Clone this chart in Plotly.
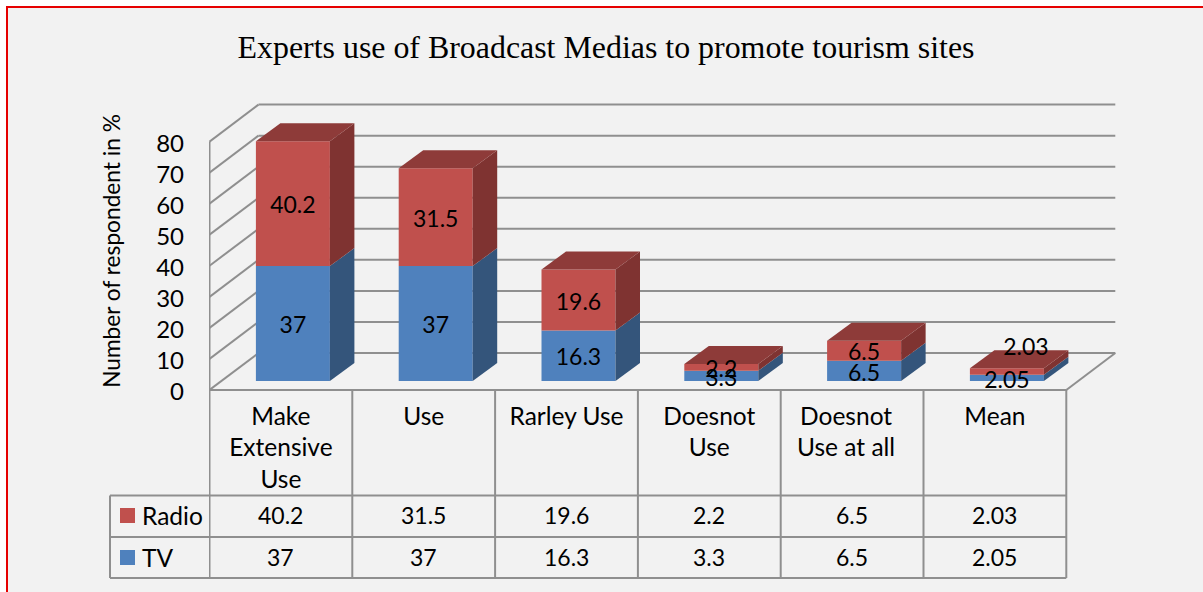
import plotly.graph_objects as go

# Chart data
categories = ["Make Extensive Use", "Use", "Rarley Use", "Doesnot Use", "Doesnot Use at all", "Mean"]
category_ticks = ["Make<br>Extensive<br>Use", "Use", "Rarley Use", "Doesnot<br>Use", "Doesnot<br>Use at all", "Mean"]
radio = [40.2, 31.5, 19.6, 2.2, 6.5, 2.03]
tv = [37, 37, 16.3, 3.3, 6.5, 2.05]
y_ticks = [0, 10, 20, 30, 40, 50, 60, 70, 80]

# Colours
TV_FRONT, TV_SIDE = "#4f81bd", "#34557b"
RADIO_FRONT, RADIO_SIDE, RADIO_TOP = "#c0504d", "#7f3331", "#8e3b39"
GRID = "#8f8f8f"
PANEL = "#f2f2f2"
SANS = "Lato"
TEXT_SIZE = 23
LABEL_SIZE = 24.5

# Page layout, in pixels
W, H = 1203, 592
PLOT_L, PLOT_R, PLOT_T, PLOT_B = 209, 1118, 103, 399
ZERO_Y = 390
CAT_W = 142.8          # pixels per category
UNIT_H = 3.105         # pixels per percentage point
LEFT_EDGE = 209.5


def px_x(v):
    return (v - PLOT_L) / (PLOT_R - PLOT_L)


def px_y(v):
    return (PLOT_B - v) / (PLOT_B - PLOT_T)


# Oblique projection of the depth axis, in axis units
WALL_DX, WALL_DY = 49 / CAT_W, 37 / UNIT_H
BAR_DX, BAR_DY = 24.5 / CAT_W, 18 / UNIT_H
BAR_SHIFT, BAR_FLOOR = 12 / CAT_W, 9 / UNIT_H
BAR_W = 74 / CAT_W
LABEL_DROP = 4 / UNIT_H

x_lo = -0.5 - (LEFT_EDGE - PLOT_L) / CAT_W
x_hi = x_lo + (PLOT_R - PLOT_L) / CAT_W
y_lo = (ZERO_Y - PLOT_B) / UNIT_H
y_hi = (ZERO_Y - PLOT_T) / UNIT_H
x_right = len(categories) - 0.5

positions = [i + BAR_SHIFT for i in range(len(categories))]
radio_base = [BAR_FLOOR + v for v in tv]
tops = [b + v for b, v in zip(radio_base, radio)]

# The fifth category label sits slightly left of its column centre
tick_positions = list(range(len(categories)))
tick_positions[4] -= 6 / CAT_W

fig = go.Figure()


def add_face(xs, ys, colour):
    fig.add_trace(go.Scatter(x=xs, y=ys, mode="lines", fill="toself", fillcolor=colour,
                             line=dict(width=0), hoverinfo="skip", showlegend=False))


# Front faces of the stacked columns
fig.add_trace(go.Bar(name="TV", x=positions, y=tv, base=[BAR_FLOOR] * len(tv),
                     width=BAR_W, marker=dict(color=TV_FRONT, line=dict(width=0))))
fig.add_trace(go.Bar(name="Radio", x=positions, y=radio, base=radio_base,
                     width=BAR_W, marker=dict(color=RADIO_FRONT, line=dict(width=0))))

# Side and top faces of each column
for p, t, rb, top in zip(positions, tv, radio_base, tops):
    xr = p + BAR_W / 2
    xl = p - BAR_W / 2
    add_face([xr, xr + BAR_DX, xr + BAR_DX, xr],
             [BAR_FLOOR, BAR_FLOOR + BAR_DY, rb + BAR_DY, rb], TV_SIDE)
    add_face([xr, xr + BAR_DX, xr + BAR_DX, xr],
             [rb, rb + BAR_DY, top + BAR_DY, top], RADIO_SIDE)
    add_face([xl, xr, xr + BAR_DX, xl + BAR_DX],
             [top, top, top + BAR_DY, top + BAR_DY], RADIO_TOP)

# Value labels, centred on their segments; the Mean radio label sits up and to the right
radio_label_x = list(positions)
radio_label_y = [b + v / 2 - LABEL_DROP for b, v in zip(radio_base, radio)]
radio_label_x[5] += 19 / CAT_W
radio_label_y[5] += 26 / UNIT_H
fig.add_trace(go.Scatter(x=positions, y=[BAR_FLOOR + v / 2 - LABEL_DROP for v in tv], mode="text",
                         text=[str(v) for v in tv], textposition="middle center",
                         textfont=dict(family=SANS, size=TEXT_SIZE, color="black"),
                         hoverinfo="skip", showlegend=False, cliponaxis=False))
fig.add_trace(go.Scatter(x=radio_label_x, y=radio_label_y, mode="text",
                         text=[str(v) for v in radio], textposition="middle center",
                         textfont=dict(family=SANS, size=TEXT_SIZE, color="black"),
                         hoverinfo="skip", showlegend=False, cliponaxis=False))

shapes = []
grid_line = dict(color=GRID, width=2)

# Page panel with its red frame
shapes.append(dict(type="rect", xref="paper", yref="paper", layer="below",
                   x0=px_x(7), x1=px_x(W + 4), y0=px_y(H + 4), y1=px_y(7),
                   fillcolor=PANEL, line=dict(color="#e60000", width=2)))

# Back wall, side wall and floor
for v in y_ticks:
    shapes.append(dict(type="line", xref="x", yref="y", layer="below", line=grid_line,
                       x0=-0.5, y0=v, x1=-0.5 + WALL_DX, y1=v + WALL_DY))
    shapes.append(dict(type="line", xref="x", yref="y", layer="below", line=grid_line,
                       x0=-0.5 + WALL_DX, y0=v + WALL_DY, x1=x_right + WALL_DX, y1=v + WALL_DY))
shapes.append(dict(type="line", xref="x", yref="y", layer="below", line=grid_line,
                   x0=-0.5, y0=0, x1=-0.5, y1=y_ticks[-1]))
shapes.append(dict(type="line", xref="x", yref="y", layer="below", line=grid_line,
                   x0=-0.5, y0=0, x1=x_right, y1=0))
shapes.append(dict(type="line", xref="x", yref="y", layer="below", line=grid_line,
                   x0=x_right, y0=0, x1=x_right + WALL_DX, y1=WALL_DY))

# Data table rules
ROW_TOP, ROW_MID, ROW_BOTTOM = 495.5, 537, 578
TABLE_LEFT = 110
for i in range(len(categories) + 1):
    shapes.append(dict(type="line", xref="x", yref="paper", layer="below", line=grid_line,
                       x0=i - 0.5, x1=i - 0.5, y0=px_y(ZERO_Y), y1=px_y(ROW_BOTTOM)))
for row_y in (ROW_TOP, ROW_MID, ROW_BOTTOM):
    shapes.append(dict(type="line", xref="paper", yref="paper", layer="below", line=grid_line,
                       x0=px_x(TABLE_LEFT), x1=px_x(LEFT_EDGE + CAT_W * len(categories)),
                       y0=px_y(row_y), y1=px_y(row_y)))
shapes.append(dict(type="line", xref="paper", yref="paper", layer="below", line=grid_line,
                   x0=px_x(TABLE_LEFT), x1=px_x(TABLE_LEFT), y0=px_y(ROW_TOP), y1=px_y(ROW_BOTTOM)))

# Legend keys inside the table
for colour, top_px in ((RADIO_FRONT, 508), (TV_FRONT, 550)):
    shapes.append(dict(type="rect", xref="paper", yref="paper", layer="below",
                       x0=px_x(120), x1=px_x(135), y0=px_y(top_px + 15), y1=px_y(top_px),
                       fillcolor=colour, line=dict(width=0)))

annotations = []
for name, row, mid in (("Radio", radio, 515), ("TV", tv, 557)):
    annotations.append(dict(xref="paper", yref="paper", x=px_x(139.5), y=px_y(mid), text=name,
                            xanchor="left", yanchor="middle", showarrow=False,
                            font=dict(family=SANS, size=LABEL_SIZE, color="black")))
    for i, v in enumerate(row):
        annotations.append(dict(xref="x", yref="paper", x=i, y=px_y(mid), text=str(v),
                                xanchor="center", yanchor="middle", showarrow=False,
                                font=dict(family=SANS, size=TEXT_SIZE, color="black")))

fig.update_layout(
    width=W, height=H, autosize=False,
    margin=dict(l=PLOT_L, r=W - PLOT_R, t=PLOT_T, b=H - PLOT_B, pad=0),
    paper_bgcolor="white", plot_bgcolor="rgba(0,0,0,0)",
    barmode="overlay", showlegend=False,
    title=dict(text="Experts use of Broadcast Medias to promote tourism sites",
               x=606 / W, xanchor="center", xref="container",
               y=1 - 47 / H, yanchor="middle", yref="container",
               font=dict(family="Liberation Serif", size=31.9, color="black")),
    xaxis=dict(range=[x_lo, x_hi], tickmode="array", tickvals=tick_positions,
               ticktext=category_ticks, showgrid=False, zeroline=False, showline=False,
               ticks="", ticklabelstandoff=0, tickangle=0,
               tickfont=dict(family=SANS, size=LABEL_SIZE, color="black")),
    yaxis=dict(range=[y_lo, y_hi], tickmode="array", tickvals=y_ticks,
               showgrid=False, zeroline=False, showline=False,
               ticks="", ticklabelstandoff=24, ticklabelshift=2,
               tickfont=dict(family=SANS, size=24, color="black"),
               title=dict(text="Number of respondent in %", standoff=29,
                          font=dict(family=SANS, size=22.7, color="black"))),
    shapes=shapes, annotations=annotations,
)

fig.write_html("out.html")
